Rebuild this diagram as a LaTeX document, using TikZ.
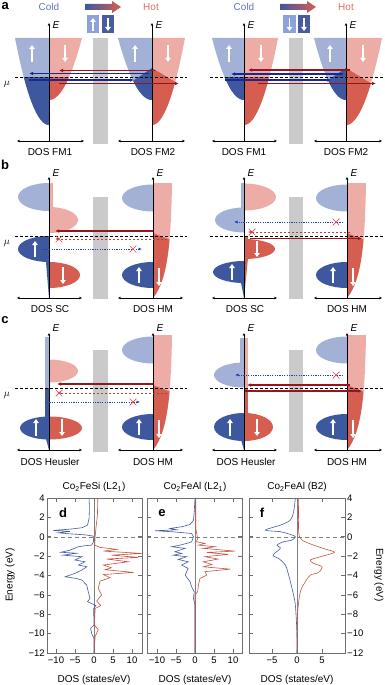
\documentclass[tikz,border=0pt]{standalone}
\usepackage{fontspec}
\setmainfont{Liberation Sans}
\usetikzlibrary{arrows.meta}
\usetikzlibrary{shapes.misc}

\definecolor{upDark}{RGB}{62,88,160}
\definecolor{upLight}{RGB}{164,177,214}
\definecolor{dnDark}{RGB}{214,94,80}
\definecolor{dnLight}{RGB}{238,172,166}
\definecolor{boxLight}{RGB}{140,162,220}
\definecolor{boxDark}{RGB}{72,92,158}
\definecolor{arrRed}{RGB}{150,20,28}
\definecolor{dashRed}{RGB}{190,60,60}
\definecolor{arrBlue}{RGB}{28,38,140}
\definecolor{dotBlue}{RGB}{40,60,175}
\definecolor{crossRed}{RGB}{228,70,80}
\definecolor{coldTxt}{RGB}{100,115,175}
\definecolor{hotTxt}{RGB}{222,110,96}
\definecolor{barrierGray}{RGB}{202,202,202}
\definecolor{frameGray}{RGB}{110,110,110}
\definecolor{dosBlue}{RGB}{66,90,165}
\definecolor{dosRed}{RGB}{200,82,64}

% parabolic band: axis x, side (+1/-1), width, top y, bottom y, colour
\newcommand{\band}[6]{%
  \fill[#6] (#1,#4) -- plot[domain=1:0,samples=25,variable=\t]
    ({#1+(#2)*(#3)*\t},{#5-(#5-#4)*\t*\t}) -- cycle;}
% half ellipse: axis x, centre y, side, width, half height, colour
\newcommand{\lobe}[6]{%
  \begin{scope}
    \clip (#1,{#2-#5}) rectangle ({#1+(#3)*(#4)},{#2+#5});
    \fill[#6] (#1,#2) ellipse [x radius=#4pt, y radius=#5pt];
  \end{scope}}
% half metal DOS: axis x, top y
\newcommand{\halfmetal}[2]{%
  \lobe{#1}{#2+15}{-1}{31}{13.5}{upLight}
  \lobe{#1}{#2+92}{-1}{31}{13}{upDark}
  \fill[dnLight] (#1,#2) -- ({#1+19},#2) .. controls ({#1+18},{#2+57}) and ({#1+15},{#2+97}) .. (#1,{#2+115}) -- cycle;
  \begin{scope}
    \clip (#1,{#2+50}) -- ({#1+30},{#2+62}) -- ({#1+30},{#2+120}) -- (#1,{#2+120}) -- cycle;
    \fill[dnDark] (#1,#2) -- ({#1+19},#2) .. controls ({#1+18},{#2+57}) and ({#1+15},{#2+97}) .. (#1,{#2+115}) -- cycle;
  \end{scope}
  \draw[spinarrow] ({#1-14},{#2+100}) -- ({#1-14},{#2+84});
  \draw[spinarrow] ({#1+6},{#2+85}) -- ({#1+6},{#2+103});}
\newcommand{\tk}[1]{\ifnum#1<0 −\number-#1\else#1\fi}

\begin{document}
\begin{tikzpicture}[
    x=1pt, y=-1pt, % pixel grid, y runs downwards
    font=\fontsize{10}{12}\selectfont,
    axisline/.style={line width=0.8pt, -{Stealth[length=3pt,width=2.6pt]}},
    dosaxis/.style={line width=0.6pt, {Stealth[length=3pt,width=2.6pt]}-{Stealth[length=3pt,width=2.6pt]}},
    fermi/.style={dash pattern=on 3pt off 2pt, line width=0.6pt},
    barrier/.style={fill=barrierGray},
    spinarrow/.style={white, line width=1.8pt, -{Triangle[length=4pt,width=5.5pt]}},
    tunnelred/.style={arrRed, line width=1.1pt, -{Latex[length=4pt,width=3.5pt]}},
    tunnelblue/.style={arrBlue, line width=1.1pt, -{Latex[length=4pt,width=3.5pt]}},
    blockedred/.style={dashRed, dash pattern=on 2.5pt off 1.5pt, line width=0.9pt, -{Latex[length=3.5pt,width=3pt]}},
    blockedblue/.style={dotBlue, dash pattern=on 1.2pt off 1.2pt, line width=0.9pt, -{Latex[length=3.5pt,width=3pt]}},
    xmark/.style={cross out, draw=crossRed, line width=0.7pt, minimum size=6pt, inner sep=0pt},
    paneltag/.style={font=\fontsize{13}{15}\selectfont\bfseries},
    frame/.style={draw=frameGray, line width=0.6pt},
    zeroline/.style={gray, line width=0.5pt, dash pattern=on 4pt off 3pt},
    dosup/.style={dosBlue, line width=0.6pt},
    dosdn/.style={dosRed, line width=0.6pt},
    ticklab/.style={font=\fontsize{9.5}{11}\selectfont, inner sep=2pt},
]
\useasboundingbox (0,0) rectangle (385,685);

% ================= panel a =================
\node[paneltag, anchor=north west, inner sep=0pt] (tagA) at (1.5,2.5) {a};
\foreach \ax/\bx in {49/85, 244/280} {
  \node[coldTxt] at (\ax,7) {Cold};
  \node[hotTxt] at (\ax+102,7) {Hot};
  \shade[left color=upDark, right color=dnDark] (\bx,4) -- (\bx+27,4) -- (\bx+27,1)
    -- (\bx+36,7) -- (\bx+27,13) -- (\bx+27,10) -- (\bx,10) -- cycle;
}
% spin boxes
\fill[boxLight] (87,15) rectangle (99,33);
\fill[boxDark] (102,15) rectangle (114,33);
\draw[spinarrow, line width=1.2pt] (93,31) -- (93,18);
\draw[spinarrow, line width=1.2pt] (108,18) -- (108,31);
\fill[boxLight] (283,15) rectangle (296,33);
\fill[boxDark] (298,15) rectangle (310,33);
\draw[spinarrow, line width=1.2pt] (289.5,18) -- (289.5,31);
\draw[spinarrow, line width=1.2pt] (304,18) -- (304,31);

% a left: FM1 cold, FM2 hot
\band{49}{-1}{34}{38}{125}{upLight}
\band{49}{1}{33}{38}{100}{dnLight}
\begin{scope}
  \clip (0,77) rectangle (100,141);
  \band{49}{-1}{34}{38}{125}{upDark}
  \band{49}{1}{33}{38}{100}{dnDark}
\end{scope}
\band{152}{-1}{34}{38}{100}{upLight}
\band{152}{1}{33}{38}{125}{dnLight}
\begin{scope}
  \clip (152,68) -- (112,95) -- (112,141) -- (192,141) -- (192,92) -- cycle;
  \band{152}{-1}{34}{38}{100}{upDark}
  \band{152}{1}{33}{38}{125}{dnDark}
\end{scope}
% a right: FM1 cold, FM2 hot
\band{244}{-1}{32}{38}{100}{upLight}
\band{244}{1}{34}{38}{125}{dnLight}
\begin{scope}
  \clip (190,77) rectangle (290,141);
  \band{244}{-1}{32}{38}{100}{upDark}
  \band{244}{1}{34}{38}{125}{dnDark}
\end{scope}
\band{346}{-1}{32}{38}{100}{upLight}
\band{346}{1}{36}{38}{125}{dnLight}
\begin{scope}
  \clip (346,68) -- (306,95) -- (306,141) -- (385,141) -- (385,92) -- cycle;
  \band{346}{-1}{32}{38}{100}{upDark}
  \band{346}{1}{36}{38}{125}{dnDark}
\end{scope}
\foreach \x in {32,135,229,330} \draw[spinarrow] (\x,62) -- (\x,45);
\foreach \x in {65,168,261,363} \draw[spinarrow] (\x,45) -- (\x,62);
\fill[barrier] (93,38) rectangle (108,144);
\fill[barrier] (289,38) rectangle (303,144);
\foreach \ax in {49,152,244,346} {
  \draw[axisline] (\ax,141) -- (\ax,23);
  \node at (\ax+7,25) {\textit{E}};
}
\draw[dosaxis] (17,141) -- (84,141);
\draw[dosaxis] (118,141) -- (185,141);
\draw[dosaxis] (212,141) -- (277,141);
\draw[dosaxis] (314,141) -- (382,141);
\node (fm1L) at (50,152) {DOS FM1};
\node (fm2L) at (153,152) {DOS FM2};
\node (fm1R) at (244,152) {DOS FM1};
\node (fm2R) at (346,152) {DOS FM2};
\draw[fermi] (15,77) -- (187,77);
\draw[fermi] (210,77) -- (385,77);
\node (muA) at (7,84) {$\mu$};
\draw[tunnelred] (155,70.5) -- (59,70.5);
\draw[tunnelblue] (149,73.5) -- (29,73.5);
\draw[tunnelblue] (29,80) -- (134,80);
\draw[tunnelred] (59,83.5) -- (179,83.5);
\draw[tunnelred] (350,70) -- (248,70);
\draw[tunnelblue] (343,74) -- (231,74);
\draw[tunnelblue] (225,80) -- (331,80);
\draw[tunnelred] (258,83.5) -- (376,83.5);

% ================= panel b =================
\node[paneltag] (tagB) at (5,165) {b};
% SC, spin up shifted down
\lobe{49}{197}{-1}{31}{14}{upLight}
\lobe{49}{249}{-1}{31}{13}{upDark}
\fill[upDark] (46,262) -- (49,262) -- (49,298) -- cycle;
\fill[dnLight] (49,183) rectangle (53,214);
\lobe{49}{220}{1}{29}{13}{dnLight}
\lobe{49}{275}{1}{31}{13}{dnDark}
\draw[spinarrow] (35,257) -- (35,241);
\draw[spinarrow] (63,267) -- (63,284);
\halfmetal{153}{183}
% SC, spin up shifted up
\fill[upLight] (241,183) rectangle (244,212);
\lobe{244}{220}{-1}{29}{12.5}{upLight}
\lobe{244}{272}{-1}{31}{11}{upDark}
\fill[upDark] (241,283) -- (244,283) -- (244,298) -- cycle;
\lobe{244}{197}{1}{32}{13.5}{dnLight}
\fill[dnDark] (244,236) rectangle (248,250);
\lobe{244}{249}{1}{31}{10}{dnDark}
\fill[dnDark] (244,258) -- (248,258) -- (244,298) -- cycle;
\draw[spinarrow] (232,280) -- (232,264);
\draw[spinarrow] (257,241) -- (257,257);
\halfmetal{347}{183}
\fill[barrier] (93,197) rectangle (108,299);
\fill[barrier] (289,197) rectangle (303,299);
\foreach \ax in {49,153,244,347} {
  \draw[axisline] (\ax,298) -- (\ax,177);
  \node at (\ax+7,173) {\textit{E}};
}
\draw[dosaxis] (17,298) -- (82,298);
\draw[dosaxis] (118,298) -- (183,298);
\draw[dosaxis] (212,298) -- (277,298);
\draw[dosaxis] (314,298) -- (382,298);
\node (scL) at (50,309) {DOS SC};
\node (hmbL) at (153,309) {DOS HM};
\node (scR) at (245,309) {DOS SC};
\node (hmbR) at (347,309) {DOS HM};
\draw[fermi] (15,236) -- (187,236);
\draw[fermi] (210,236) -- (385,236);
\node (muB) at (7,243) {$\mu$};
\draw[tunnelred] (153,231) -- (55,231);
\draw[blockedred] (167,239) -- (55,239);
\node[xmark] at (59,239) {};
\draw[blockedblue] (42,249) -- (142,249);
\node[xmark] at (133,249) {};
\draw[blockedblue] (343,222) -- (234,222);
\node[xmark] at (336,222) {};
\draw[blockedred] (350,232) -- (248,232);
\node[xmark] at (252,232) {};
\draw[tunnelred] (250,238.5) -- (362,238.5);

% ================= panel c =================
\node[paneltag] (tagC) at (5,320) {c};
% Heusler, left
\fill[upLight] (45,337) rectangle (49,388);
\fill[upDark] (45,388) rectangle (49,418);
\lobe{49}{428}{-1}{29}{11.5}{upDark}
\fill[upDark] (46,439) -- (49,439) -- (49,450) -- cycle;
\lobe{49}{371}{1}{29}{11.5}{dnLight}
\lobe{49}{428}{1}{33}{11.5}{dnDark}
\draw[spinarrow] (36,436) -- (36,419);
\draw[spinarrow] (62,419) -- (62,436);
\halfmetal{153}{335}
% Heusler, right
\fill[upLight] (240,338) rectangle (244,366);
\lobe{244}{375}{-1}{30}{12.5}{upLight}
\lobe{244}{427}{-1}{30}{14}{upDark}
\fill[upDark] (241,440) -- (244,440) -- (244,450) -- cycle;
\fill[dnLight] (244,338) rectangle (248,388);
\fill[dnDark] (244,388) rectangle (248,415);
\lobe{244}{427}{1}{29}{14}{dnDark}
\draw[spinarrow] (230,436) -- (230,419);
\draw[spinarrow] (257,419) -- (257,436);
\halfmetal{347}{335}
\fill[barrier] (93,350) rectangle (108,452);
\fill[barrier] (289,350) rectangle (303,452);
\foreach \ax in {49,153,244,347} {
  \draw[axisline] (\ax,450) -- (\ax,333);
  \node at (\ax+7,328) {\textit{E}};
}
\draw[dosaxis] (17,450) -- (82,450);
\draw[dosaxis] (118,450) -- (183,450);
\draw[dosaxis] (212,450) -- (277,450);
\draw[dosaxis] (314,450) -- (382,450);
\node (heuL) at (50,462) {DOS Heusler};
\node (hmcL) at (153,462) {DOS HM};
\node (heuR) at (246,462) {DOS Heusler};
\node (hmcR) at (347,462) {DOS HM};
\draw[fermi] (15,388) -- (187,388);
\draw[fermi] (210,388) -- (385,388);
\node (muC) at (7,395) {$\mu$};
\draw[tunnelred] (153,384) -- (57,384);
\draw[blockedred] (167,393) -- (57,393);
\node[xmark] at (59,393) {};
\draw[blockedblue] (47,402) -- (140,402);
\node[xmark] at (133,402) {};
\draw[blockedblue] (343,375) -- (235,375);
\node[xmark] at (336,375) {};
\draw[tunnelred] (350,385) -- (247,385);
\draw[tunnelred] (245,391) -- (362,391);

% ================= panels d-f =================
\node (titD) at (94,487) {Co\textsubscript{2}FeSi (L2\textsubscript{1})};
\node (titE) at (195,487) {Co\textsubscript{2}FeAl (L2\textsubscript{1})};
\node (titF) at (297,487) {Co\textsubscript{2}FeAl (B2)};
\node[rotate=90] (enL) at (10,575) {Energy (eV)};
\node[rotate=-90] (enR) at (379,575) {Energy (eV)};

% d
\begin{scope}[shift={(94,536.75)}, x=3.8pt, y=9.69pt]
  \draw[gray, line width=0.5pt] (0,-12) -- (0,4);
  \draw[zeroline] (-12.4,0) -- (12.6,0);
  \draw[dosup] plot coordinates {(-1.3,4) (-1.2,2.9) (-1.3,1.9) (-1.7,1.2) (-3.2,0.93) (-5.9,0.8)
    (-10.7,0.65) (-6.3,0.55) (-9.4,0.41) (-6.8,0.31) (-2.4,0.2) (-0.2,0.07) (-0.1,-0.5) (-0.6,-0.86)
    (-2.4,-0.93) (-4.1,-1.03) (-6.3,-1.38) (-8.7,-1.6) (-4.6,-1.7) (-8.1,-1.9) (-3.2,-2.06) (-5.0,-2.4)
    (-2.4,-2.58) (-4.1,-2.92) (-1.9,-3.1) (-3.2,-3.44) (-5.0,-3.78) (-7.6,-4.13) (-4.6,-4.3) (-3.2,-4.47)
    (-1.9,-5.0) (-1.5,-5.7) (-1.05,-6.36) (-1.7,-6.7) (-0.6,-6.9) (0.5,-7.1) (-0.1,-7.4) (0,-9.1)
    (-0.9,-9.46) (-0.6,-10) (0,-10.5) (0,-12)};
  \draw[dosdn] plot coordinates {(1.0,4) (0.9,2.2) (0.5,0.86) (0.3,0) (0.2,-0.86) (1.6,-1.1) (6.0,-1.3)
    (2.5,-1.48) (12.5,-1.72) (4.6,-1.9) (11.7,-2.13) (3.3,-2.3) (9.0,-2.58) (2.5,-2.92) (4.6,-3.2)
    (2.9,-3.4) (10.4,-3.68) (2.5,-3.9) (4.2,-4.23) (1.6,-4.58) (1.1,-5.33) (2.0,-6.0) (0.7,-6.64)
    (1.8,-7.1) (0.3,-7.4) (0.1,-9.1) (1.1,-9.6) (0.3,-10.3) (0,-12)};
  \draw[frame] (-12.4,-12) rectangle (12.6,4);
  \foreach \e in {-12,-10,...,4} {
    \draw[frame] (-12.4,\e) -- ++(4pt,0pt);
    \draw[frame] (12.6,\e) -- ++(-4pt,0pt);
    \node[ticklab, left] at (-12.4,\e) {\tk{\e}};
  }
  \foreach \d in {-10,-5,0,5,10} {
    \draw[frame] (\d,-12) -- ++(0pt,4pt);
    \draw[frame] (\d,4) -- ++(0pt,-4pt);
    \node[ticklab, below, inner sep=4pt] at (\d,-12) {\tk{\d}};
  }
\end{scope}
% e
\begin{scope}[shift={(195,536.75)}, x=3.8pt, y=9.69pt]
  \draw[gray, line width=0.5pt] (0,-12) -- (0,4);
  \draw[zeroline] (-12.6,0) -- (12.4,0);
  \draw[dosup] plot coordinates {(0,4) (-0.2,2.6) (-0.4,1.7) (-1.3,1.27) (-3.5,1.03) (-6.6,0.86)
    (-4.8,0.72) (-10.5,0.62) (-6.1,0.52) (-0.9,0.34) (-0.4,0) (-0.9,-0.52) (-2.2,-0.69) (-3.9,-0.86)
    (-6.1,-1.03) (-2.6,-1.2) (-5.3,-1.55) (-3.5,-1.72) (-5.7,-1.9) (-2.2,-2.06) (-4.4,-2.34)
    (-1.8,-2.58) (-3.5,-2.92) (-1.8,-3.27) (-2.6,-3.96) (-1.3,-4.64) (-0.9,-5.16) (-0.2,-5.68)
    (-0.4,-6.36) (0,-7.05) (0,-12)};
  \draw[dosdn] plot coordinates {(0.2,4) (0.2,0.86) (0.7,-0.17) (0.4,-0.52) (2.6,-0.69) (0.9,-0.86)
    (5.3,-1.03) (2.2,-1.2) (10.5,-1.48) (3.1,-1.62) (8.8,-1.82) (2.6,-2.06) (6.1,-2.3) (2.2,-2.58)
    (4.4,-2.86) (2.2,-3.1) (9.3,-3.34) (2.6,-3.6) (3.1,-3.96) (1.3,-4.3) (0.9,-5.0) (0.7,-5.68)
    (0,-6.0) (0,-12)};
  \draw[frame] (-12.6,-12) rectangle (12.4,4);
  \foreach \e in {-12,-10,...,4} {
    \draw[frame] (-12.6,\e) -- ++(4pt,0pt);
    \draw[frame] (12.4,\e) -- ++(-4pt,0pt);
  }
  \foreach \d in {-10,-5,0,5,10} {
    \draw[frame] (\d,-12) -- ++(0pt,4pt);
    \draw[frame] (\d,4) -- ++(0pt,-4pt);
    \node[ticklab, below, inner sep=4pt] at (\d,-12) {\tk{\d}};
  }
\end{scope}
% f
\begin{scope}[shift={(297,536.75)}, x=5pt, y=9.69pt]
  \draw[gray, line width=0.5pt] (0,-12) -- (0,4);
  \draw[zeroline] (-9.6,0) -- (9.6,0);
  \draw[dosup] plot[smooth, tension=0.5] coordinates {(-0.33,4) (-0.67,2.6) (-1.33,1.72) (-3.33,1.2)
    (-6.33,0.69) (-3.33,0.52) (-1.33,0.24) (-0.33,0) (-1.0,-0.34) (-2.67,-0.52) (-4.0,-0.86)
    (-3.33,-1.2) (-4.8,-1.9) (-3.67,-2.24) (-2.33,-2.92) (-1.67,-3.96) (-1.0,-5.33) (-0.33,-7.05)
    (0,-10.15) (0,-12)};
  \draw[dosdn] plot[smooth, tension=0.5] coordinates {(0.33,4) (0.33,0.52) (1.0,-0.34) (3.33,-0.86)
    (5.67,-1.27) (7.47,-1.62) (4.67,-2.06) (2.67,-2.4) (3.33,-2.75) (5.0,-3.1) (4.33,-3.68)
    (2.67,-3.96) (1.67,-4.64) (0.67,-5.68) (0.13,-7.74) (0,-10.15) (0,-12)};
  \draw[frame] (-9.6,-12) rectangle (9.6,4);
  \foreach \e in {-12,-10,...,4} {
    \draw[frame] (-9.6,\e) -- ++(4pt,0pt);
    \draw[frame] (9.6,\e) -- ++(-4pt,0pt);
    \node[ticklab, right] at (9.6,\e) {\tk{\e}};
  }
  \foreach \d in {-5,0,5} {
    \draw[frame] (\d,-12) -- ++(0pt,4pt);
    \draw[frame] (\d,4) -- ++(0pt,-4pt);
    \node[ticklab, below, inner sep=4pt] at (\d,-12) {\tk{\d}};
  }
\end{scope}
\node[paneltag] (tagD) at (63,513) {d};
\node[paneltag] (tagE) at (162,513) {e};
\node[paneltag] (tagF) at (262,513) {f};
\node (xlabD) at (94,680) {DOS (states/eV)};
\node (xlabE) at (195,680) {DOS (states/eV)};
\node (xlabF) at (297,680) {DOS (states/eV)};
\end{tikzpicture}
\end{document}
